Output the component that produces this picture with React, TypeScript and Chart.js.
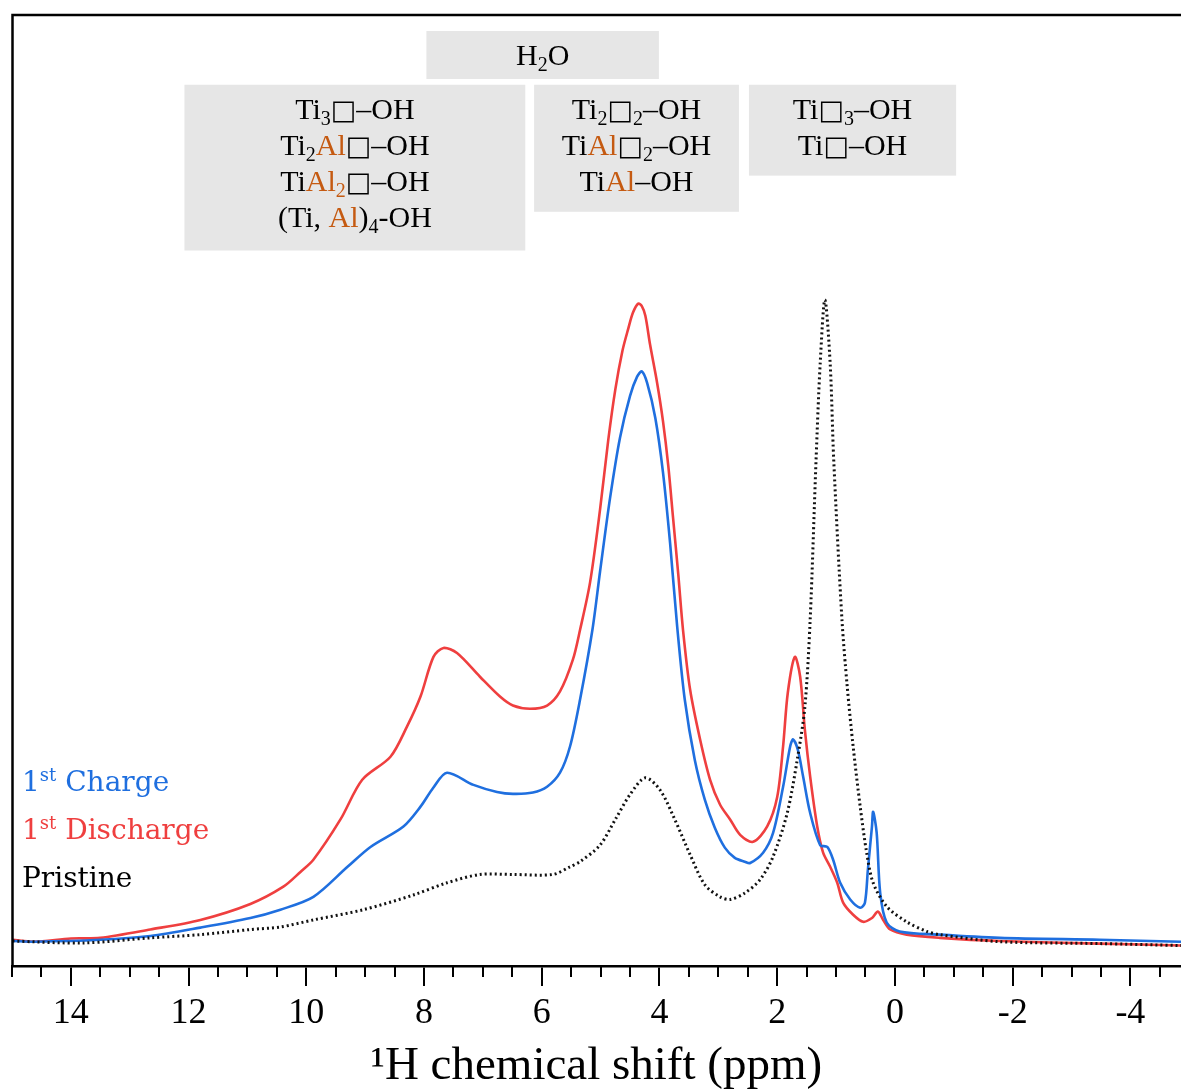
import React, { useEffect, useRef } from 'react';
import { Chart, registerables } from 'chart.js';

Chart.register(...registerables);

// ---- Data (ppm, normalised intensity) ----
const pristinePoints: [number, number][] = [
  [14.99, -0.002], [13.79, -0.005], [12.65, 0.003], [11.8, 0.008], [10.95, 0.016], [10.44, 0.02],
  [9.88, 0.031], [9.03, 0.047], [8.18, 0.07], [7.61, 0.089], [7.05, 0.102], [6.49, 0.102],
  [5.81, 0.102], [5.52, 0.114], [5.35, 0.122], [5.01, 0.148], [4.75, 0.188], [4.5, 0.227],
  [4.24, 0.253], [3.99, 0.234], [3.74, 0.188], [3.48, 0.133], [3.23, 0.086], [2.97, 0.067],
  [2.8, 0.063], [2.55, 0.073], [2.29, 0.094], [2.07, 0.13], [1.83, 0.198], [1.66, 0.281],
  [1.53, 0.364], [1.44, 0.5], [1.34, 0.75], [1.27, 0.9], [1.19, 1.0], [1.1, 0.9], [1.04, 0.75],
  [0.9, 0.5], [0.81, 0.395], [0.71, 0.302], [0.59, 0.208], [0.48, 0.136], [0.37, 0.089],
  [0.14, 0.052], [-0.2, 0.028], [-0.54, 0.013], [-0.76, 0.008], [-1.78, -0.003], [-3.48, -0.006],
  [-4.86, -0.009],
];

const chargePoints: [number, number][] = [
  [14.99, -0.002], [14.63, -0.003], [13.5, 0], [12.65, 0.006], [11.8, 0.019], [10.95, 0.034],
  [10.44, 0.047], [9.88, 0.067], [9.3, 0.114], [8.91, 0.145], [8.35, 0.177], [8.06, 0.208],
  [7.84, 0.238], [7.61, 0.261], [7.16, 0.242], [6.76, 0.231], [6.49, 0.228], [6.15, 0.23],
  [5.91, 0.239], [5.69, 0.261], [5.52, 0.302], [5.35, 0.375], [5.14, 0.484], [5.01, 0.575],
  [4.84, 0.69], [4.67, 0.785], [4.5, 0.85], [4.38, 0.88], [4.3, 0.888], [4.21, 0.87],
  [4.07, 0.815], [3.94, 0.73], [3.82, 0.62], [3.7, 0.49], [3.57, 0.375], [3.4, 0.281],
  [3.23, 0.219], [3.06, 0.175], [2.89, 0.144], [2.72, 0.128], [2.55, 0.122], [2.46, 0.12],
  [2.24, 0.136], [2.07, 0.167], [1.9, 0.239], [1.78, 0.302], [1.73, 0.313], [1.65, 0.297],
  [1.56, 0.255], [1.44, 0.198], [1.27, 0.148], [1.15, 0.145], [1.05, 0.125], [0.93, 0.089],
  [0.76, 0.063], [0.59, 0.05], [0.51, 0.058], [0.46, 0.109], [0.39, 0.177], [0.37, 0.2],
  [0.31, 0.167], [0.25, 0.073], [0.14, 0.027], [-0.08, 0.013], [-0.76, 0.008], [-1.78, 0.003],
  [-3.48, 0], [-4.86, -0.003],
];

const dischargePoints: [number, number][] = [
  [14.99, 0], [14.63, -0.003], [14.0, 0.002], [13.5, 0.003], [12.65, 0.016], [11.8, 0.031],
  [10.95, 0.056], [10.39, 0.083], [10.1, 0.106], [9.88, 0.125], [9.42, 0.188], [9.05, 0.25],
  [8.57, 0.286], [8.29, 0.333], [8.06, 0.38], [7.84, 0.442], [7.67, 0.456], [7.44, 0.448],
  [7.05, 0.411], [6.71, 0.38], [6.49, 0.366], [6.2, 0.361], [5.91, 0.366], [5.69, 0.388],
  [5.47, 0.438], [5.35, 0.484], [5.18, 0.558], [5.01, 0.672], [4.87, 0.781], [4.75, 0.86],
  [4.63, 0.92], [4.53, 0.955], [4.45, 0.98], [4.36, 0.994], [4.3, 0.99], [4.24, 0.975],
  [4.16, 0.93], [4.04, 0.87], [3.94, 0.81], [3.85, 0.74], [3.77, 0.66], [3.68, 0.57],
  [3.6, 0.484], [3.48, 0.391], [3.31, 0.313], [3.14, 0.25], [2.97, 0.211], [2.8, 0.188],
  [2.63, 0.164], [2.41, 0.153], [2.17, 0.177], [2.0, 0.223], [1.9, 0.302], [1.82, 0.386],
  [1.7, 0.442], [1.61, 0.411], [1.53, 0.328], [1.44, 0.255], [1.32, 0.177], [1.22, 0.136],
  [1.1, 0.114], [0.98, 0.089], [0.88, 0.058], [0.71, 0.039], [0.54, 0.028], [0.39, 0.034],
  [0.29, 0.044], [0.2, 0.031], [0.08, 0.016], [-0.2, 0.008], [-0.76, 0.003], [-1.78, -0.002],
  [-3.48, -0.006], [-4.86, -0.009],
];

const majorTicks = [14, 12, 10, 8, 6, 4, 2, 0, -2, -4];
const minorTicks = [15, 14.5, 13.5, 13, 12.5, 11.5, 11, 10.5, 9.5, 9, 8.5, 7.5, 7, 6.5, 5.5, 5, 4.5,
  3.5, 3, 2.5, 1.5, 1, 0.5, -0.5, -1, -1.5, -2.5, -3, -3.5, -4.5];

const X_MIN = -4.86;
const X_MAX = 15;
const Y_MIN = -0.041;
const Y_MAX = 1.445;

const seriesLabels = ['Pristine', '1st Charge', '1st Discharge'];

type Seg = [string, string?];

// Annotation boxes: extents in data coordinates (ppm, intensity)
const annotationBoxes: { ppm: [number, number]; inten: [number, number]; lines: Seg[][] }[] = [
  { ppm: [7.96, 4.01], inten: [1.42, 1.345], lines: [[['H'], ['2', 'sub'], ['O']]] },
  {
    ppm: [12.07, 6.28], inten: [1.336, 1.077], lines: [
      [['Ti'], ['3', 'sub'], ['\u25A1', 'box'], ['\u2013OH']],
      [['Ti'], ['2', 'sub'], ['Al', 'al'], ['\u25A1', 'box'], ['\u2013OH']],
      [['Ti'], ['Al', 'al'], ['2', 'alsub'], ['\u25A1', 'box'], ['\u2013OH']],
      [['(Ti, '], ['Al', 'al'], [')'], ['4', 'sub'], ['-OH']],
    ],
  },
  {
    ppm: [6.13, 2.65], inten: [1.336, 1.1375], lines: [
      [['Ti'], ['2', 'sub'], ['\u25A1', 'box'], ['2', 'sub'], ['\u2013OH']],
      [['Ti'], ['Al', 'al'], ['\u25A1', 'box'], ['2', 'sub'], ['\u2013OH']],
      [['Ti'], ['Al', 'al'], ['\u2013OH']],
    ],
  },
  {
    ppm: [2.48, -1.04], inten: [1.336, 1.194], lines: [
      [['Ti'], ['\u25A1', 'box'], ['3', 'sub'], ['\u2013OH']],
      [['Ti'], ['\u25A1', 'box'], ['\u2013OH']],
    ],
  },
];

const BLUE = '#1f6fdf';
const RED = '#ef3f3f';
const ORANGE = '#c55a11';
const SERIF = "'Liberation Serif', 'DejaVu Serif', serif";
const LEG_SERIF = "'DejaVu Serif', 'Liberation Serif', serif";

function segFont(kind?: string) {
  if (kind === 'sub' || kind === 'alsub') return `20px ${SERIF}`;
  if (kind === 'box') return `27px 'DejaVu Sans'`;
  return `30px ${SERIF}`;
}

function drawRich(ctx: CanvasRenderingContext2D, segs: Seg[], cx: number, baseline: number) {
  const widths = segs.map(([t, k]) => {
    ctx.font = segFont(k);
    return ctx.measureText(t).width;
  });
  const total = widths.reduce((a, b) => a + b, 0);
  let xx = cx - total / 2;
  segs.forEach(([t, k], i) => {
    ctx.font = segFont(k);
    ctx.fillStyle = k === 'al' || k === 'alsub' ? ORANGE : '#000';
    const dy = k === 'sub' || k === 'alsub' ? 6 : 0;
    ctx.fillText(t, xx, baseline + dy);
    xx += widths[i];
  });
}

const decorPlugin = {
  id: 'decor',
  afterDraw(chart: any) {
    const { ctx, chartArea, scales } = chart;
    const { left, top, right, bottom } = chartArea;
    const xs = scales.x;
    const ys = scales.y;
    ctx.save();
    // frame (left + top)
    ctx.strokeStyle = '#000';
    ctx.lineWidth = 2.5;
    ctx.beginPath();
    ctx.moveTo(left + 0.5, bottom);
    ctx.lineTo(left + 0.5, top);
    ctx.lineTo(right + 2, top);
    ctx.stroke();
    // minor ticks
    ctx.lineWidth = 2;
    ctx.beginPath();
    for (const v of minorTicks) {
      const px = Math.round(xs.getPixelForValue(v));
      ctx.moveTo(px, bottom);
      ctx.lineTo(px, bottom + 11);
    }
    ctx.stroke();

    // annotation boxes
    ctx.textAlign = 'left';
    ctx.textBaseline = 'alphabetic';
    for (const b of annotationBoxes) {
      const x0 = xs.getPixelForValue(b.ppm[0]);
      const x1 = xs.getPixelForValue(b.ppm[1]);
      const y0 = ys.getPixelForValue(b.inten[0]);
      const y1 = ys.getPixelForValue(b.inten[1]);
      const bl = Math.min(x0, x1), bt = Math.min(y0, y1);
      const bw = Math.abs(x1 - x0), bh = Math.abs(y1 - y0);
      ctx.fillStyle = '#e6e6e6';
      ctx.fillRect(bl, bt, bw, bh);
      b.lines.forEach((line, i) => {
        drawRich(ctx, line, bl + bw / 2, bt + 34 + i * 36);
      });
    }

    // legend (text only)
    const legendColors = [BLUE, RED, '#000'];
    const legendOrder = [1, 2, 0];
    legendOrder.forEach((si, i) => {
      const label = seriesLabels[si];
      const base = 791 + i * 48;
      let xx = 22;
      ctx.fillStyle = legendColors[i];
      if (label.startsWith('1st')) {
        ctx.font = `28px ${LEG_SERIF}`;
        ctx.fillText('1', xx, base);
        xx += ctx.measureText('1').width;
        ctx.font = `18px ${LEG_SERIF}`;
        ctx.fillText('st', xx, base - 10);
        xx += ctx.measureText('st').width;
        ctx.font = `28px ${LEG_SERIF}`;
        ctx.fillText(label.slice(3), xx, base);
      } else {
        ctx.font = `28px ${LEG_SERIF}`;
        ctx.fillText(label, xx, base);
      }
    });
    ctx.restore();
  },
};

export default function App() {
  const ref = useRef<HTMLCanvasElement | null>(null);
  useEffect(() => {
    if (!ref.current) return;
    const toXY = (pts: [number, number][]) => pts.map(([x, y]) => ({ x, y }));
    const chart = new Chart(ref.current, {
      type: 'line',
      data: {
        datasets: [
          {
            label: seriesLabels[0], data: toXY(pristinePoints), borderColor: '#111', borderWidth: 3,
            borderDash: [2, 3], pointRadius: 0, tension: 0.3, fill: false,
          },
          {
            label: seriesLabels[1], data: toXY(chargePoints), borderColor: BLUE, borderWidth: 2.6,
            pointRadius: 0, tension: 0.3, fill: false,
          },
          {
            label: seriesLabels[2], data: toXY(dischargePoints), borderColor: RED, borderWidth: 2.6,
            pointRadius: 0, tension: 0.3, fill: false,
          },
        ],
      } as any,
      options: {
        responsive: false,
        animation: false,
        layout: { padding: { left: 12, top: 15, right: 0, bottom: 0 } },
        plugins: { legend: { display: false }, tooltip: { enabled: false } },
        scales: {
          x: {
            type: 'linear',
            reverse: true,
            min: X_MIN,
            max: X_MAX,
            afterBuildTicks: (s: any) => { s.ticks = majorTicks.map((v) => ({ value: v })); },
            afterFit: (s: any) => { s.height = 124; },
            ticks: {
              font: { family: SERIF, size: 36 }, color: '#000', padding: 6,
              maxRotation: 0, autoSkip: false,
            },
            grid: {
              display: true, drawOnChartArea: false, drawTicks: true, tickLength: 20,
              lineWidth: 2, color: '#000',
            },
            border: { display: true, width: 2.5, color: '#000' },
            title: {
              display: true, text: '\u00B9H chemical shift (ppm)', color: '#000',
              font: { family: SERIF, size: 47, lineHeight: 1 }, padding: { top: 0, bottom: 0 },
            },
          },
          y: { type: 'linear', display: false, min: Y_MIN, max: Y_MAX },
        },
      } as any,
      plugins: [decorPlugin],
    });
    return () => chart.destroy();
  }, []);
  return (
    <div style={{ position: 'fixed', left: 0, top: 0, width: 1181, height: 1090, background: '#fff' }}>
      <canvas ref={ref} width={1181} height={1090} style={{ display: 'block', width: 1181, height: 1090 }} />
    </div>
  );
}
